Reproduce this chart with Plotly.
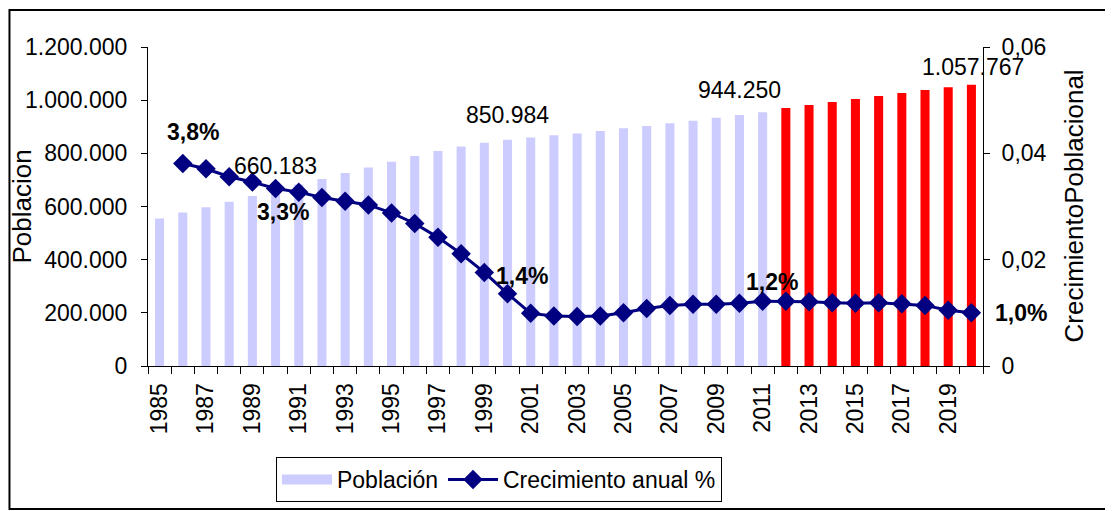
import plotly.graph_objects as go

years = list(range(1985, 2021))

poblacion = [555000, 577000, 597000, 618000, 639500, 660183, 683000, 703000, 726000, 747000,
             768500, 790000, 809000, 826000, 840000, 850984, 860000, 868000, 875000, 884000,
             894000, 903000, 913000, 923000, 934000, 944250, 955000, 970500, 982000, 993000,
             1004000, 1015500, 1027000, 1038000, 1049000, 1057767]

# growth starts one year later
crec_years = list(range(1986, 2021))
crecimiento = [0.0381, 0.0371, 0.0356, 0.0346, 0.0334, 0.0327, 0.0317, 0.0310, 0.0303, 0.0288,
               0.0268, 0.0242, 0.0211, 0.0176, 0.0136, 0.0099, 0.0094, 0.0093, 0.0094, 0.0100,
               0.0108, 0.0114, 0.0116, 0.0116, 0.0118, 0.0122, 0.0122, 0.0121, 0.0119, 0.0118,
               0.0119, 0.0117, 0.0114, 0.0105, 0.0100]

bar_label_years = [1990, 2000, 2010, 2020]
line_label_years = [1986, 1990, 2000, 2011, 2020]
first_projection = 2012

FONT = "Liberation Sans, Arial, sans-serif"
FS = 23
LAV = "#CCCCFF"

bar_colors = ["#FF0000" if y >= first_projection else LAV for y in years]

fig = go.Figure()
fig.add_trace(go.Bar(
    x=years, y=poblacion, name="Población", showlegend=False,
    marker=dict(color=bar_colors, line=dict(width=0)),
))
# legend entry drawn as a wide swatch, like the original
fig.add_trace(go.Scatter(
    x=[None], y=[None], name="Población", mode="lines",
    line=dict(color=LAV, width=14),
))
fig.add_trace(go.Scatter(
    x=crec_years, y=crecimiento, name="Crecimiento anual %", yaxis="y2",
    mode="lines+markers",
    line=dict(color="#000080", width=3),
    marker=dict(symbol="diamond", size=15, color="#000080"),
))

annotations = []
bar_shifts = [(0, 25), (0, 25), (0, 25), (2, 18)]
for yr, (dx, dy) in zip(bar_label_years, bar_shifts):
    v = poblacion[years.index(yr)]
    annotations.append(dict(
        x=yr, y=v, xref="x", yref="y", text=f"{v:,}".replace(",", "."),
        showarrow=False, xshift=dx, yshift=dy, xanchor="center", yanchor="middle",
        font=dict(family=FONT, size=FS, color="black"),
    ))

line_shifts = [(10, 31), (7, -24), (14, 18), (9, 19), (50, 0)]
for yr, (dx, dy) in zip(line_label_years, line_shifts):
    v = crecimiento[crec_years.index(yr)]
    annotations.append(dict(
        x=yr, y=v, xref="x", yref="y2", text="<b>" + f"{v*100:.1f}%".replace(".", ",") + "</b>",
        showarrow=False, xshift=dx, yshift=dy, xanchor="center", yanchor="middle",
        font=dict(family=FONT, size=FS, color="black"),
    ))

# axis titles as rotated annotations
annotations.append(dict(x=-0.1509, y=0.5, xref="paper", yref="paper", text="Poblacion",
                        textangle=-90, showarrow=False, xanchor="center", yanchor="middle",
                        font=dict(family=FONT, size=26, color="black")))
annotations.append(dict(x=1.1078, y=0.5, xref="paper", yref="paper", text="CrecimientoPoblacional",
                        textangle=-90, showarrow=False, xanchor="center", yanchor="middle",
                        font=dict(family=FONT, size=26, color="black")))

fig.update_layout(
    width=1105, height=503,
    margin=dict(l=140, r=130, t=39, b=145),
    paper_bgcolor="white", plot_bgcolor="white",
    font=dict(family=FONT, size=FS, color="black"),
    separators=",.",
    bargap=0.61,
    showlegend=True,
    legend=dict(
        orientation="h", xref="container", yref="container",
        x=0.2425, y=0.1074, xanchor="left", yanchor="top",
        bordercolor="black", borderwidth=1, bgcolor="white",
        font=dict(family=FONT, size=FS, color="black"),
        itemwidth=50,
    ),
    xaxis=dict(
        range=[1984.5, 2020.5], tickmode="linear", tick0=1985, dtick=2,
        tickangle=-90, ticks="", showgrid=False, zeroline=False,
        showline=True, linecolor="black", linewidth=1, ticklabelstandoff=7,
        minor=dict(ticks="outside", tick0=1984.5, dtick=1, ticklen=7, tickcolor="black", showgrid=False),
        tickfont=dict(family=FONT, size=FS, color="black"),
    ),
    yaxis=dict(
        range=[0, 1200000], dtick=200000, tickformat=",d",
        ticks="outside", ticklen=6, tickcolor="black", ticklabelstandoff=9,
        showgrid=False, zeroline=False, showline=True, linecolor="black", linewidth=1,
        tickfont=dict(family=FONT, size=FS, color="black"),
    ),
    yaxis2=dict(
        overlaying="y", side="right", range=[0, 0.06], dtick=0.02, tickformat=".2~f",
        ticks="outside", ticklen=6, tickcolor="black", ticklabelstandoff=7,
        showgrid=False, zeroline=False, showline=True, linecolor="black", linewidth=1,
        tickfont=dict(family=FONT, size=FS, color="black"),
    ),
    annotations=annotations,
    shapes=[dict(
        type="rect", xref="paper", yref="paper",
        x0=-0.1659, x1=1.2, y0=-0.448, y1=1.116,
        line=dict(color="black", width=2), fillcolor="rgba(0,0,0,0)", layer="below",
    )],
)

fig.write_html("out.html")
